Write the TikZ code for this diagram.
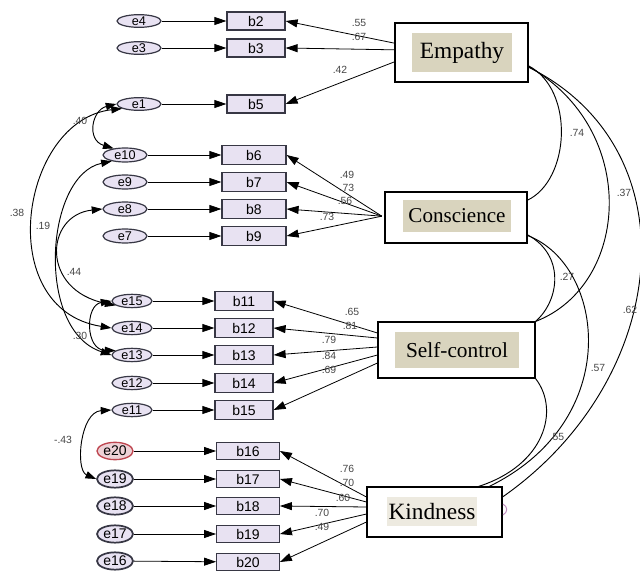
\documentclass[tikz,border=0pt]{standalone}
\usepackage{fontspec}
\setmainfont{Liberation Serif}
\setsansfont{Liberation Sans}
\usetikzlibrary{arrows.meta,shapes.geometric,calc}
\definecolor{lav}{RGB}{232,226,242}
\definecolor{tanc}{RGB}{217,212,190}
\definecolor{tanl}{RGB}{237,234,224}
\definecolor{edgec}{RGB}{55,55,68}
\definecolor{numc}{RGB}{70,70,70}
\definecolor{redc}{RGB}{190,70,80}
\definecolor{redf}{RGB}{238,210,215}
\definecolor{pinkc}{RGB}{190,140,190}
\begin{document}
\begin{tikzpicture}[x=0.75pt,y=-0.75pt,
 err/.style={ellipse, draw=edgec, fill=lav, line width=0.9pt, inner sep=0pt, minimum width=33pt, minimum height=9.5pt, font=\sffamily\fontsize{9.5}{10}\selectfont},
 errb/.style={err, line width=1.3pt, minimum width=27pt, minimum height=13pt, font=\sffamily\fontsize{10.5}{11}\selectfont},
 obs/.style={rectangle, draw=edgec, fill=lav, line width=0.9pt, inner sep=0pt, minimum width=43.5pt, minimum height=13.5pt, font=\sffamily\fontsize{10.5}{11}\selectfont},
 lat/.style={rectangle, draw=black, line width=0.8pt, fill=white, inner sep=0pt},
 latt/.style={rectangle, fill=tanc, inner sep=0pt},
 reg/.style={-{Triangle[length=9pt,width=6pt]}, line width=0.6pt, draw=black},
 cov/.style={{Triangle[length=8pt,width=5.5pt]}-{Triangle[length=8pt,width=5.5pt]}, line width=0.7pt},
 corr/.style={line width=0.7pt},
 num/.style={font=\sffamily\fontsize{7.8}{8}\selectfont, text=numc, inner sep=0.5pt}
]
\useasboundingbox (0,0) rectangle (640,574);

% ---------- latent boxes ----------
\node[lat, minimum width=99.75pt, minimum height=44.25pt] (Emp) at (461.5,52.5) {};
\node[latt, minimum width=75pt, minimum height=29.25pt, font=\fontsize{17.5}{20}\selectfont] (EmpT) at (462,52.5) {Empathy};
\node[lat, minimum width=106.5pt, minimum height=38.25pt] (Con) at (456,217.5) {};
\node[latt, minimum width=81pt, minimum height=24pt, font=\fontsize{15.8}{18}\selectfont] (ConT) at (457,216) {Conscience};
\node[lat, minimum width=117.75pt, minimum height=42pt] (Self) at (456.5,350) {};
\node[latt, minimum width=93pt, minimum height=27pt, font=\fontsize{16}{18}\selectfont] (SelfT) at (457,350) {Self-control};
\node[lat, minimum width=101.25pt, minimum height=37.5pt] (Kind) at (434.5,512) {};
\node[latt, fill=tanl, minimum width=67.5pt, minimum height=21.75pt, font=\fontsize{17.5}{20}\selectfont] (KindT) at (432,511.5) {Kindness};

% ---------- group 1 ----------
\node[err] (e4) at (139,21) {e4};
\node[err] (e3) at (139,48) {e3};
\node[err] (e1) at (139,104) {e1};
\node[obs] (b2) at (256,21) {b2};
\node[obs] (b3) at (256,48) {b3};
\node[obs] (b5) at (256,104) {b5};

% ---------- group 2 ----------
\node[err, minimum height=10.5pt] (e10) at (125,155) {e10};
\node[err, minimum height=10.5pt] (e9) at (125,182) {e9};
\node[err, minimum height=10.5pt] (e8) at (125,209) {e8};
\node[err, minimum height=10.5pt] (e7) at (125,236) {e7};
\node[obs, minimum width=48pt, minimum height=14.25pt] (b6) at (254,155) {b6};
\node[obs, minimum width=48pt, minimum height=14.25pt] (b7) at (254,182) {b7};
\node[obs, minimum width=48pt, minimum height=14.25pt] (b8) at (254,209) {b8};
\node[obs, minimum width=48pt, minimum height=14.25pt] (b9) at (254,236) {b9};

% ---------- group 3 ----------
\node[err, minimum width=30pt, minimum height=10pt] (e15) at (132,301) {e15};
\node[err, minimum width=30pt, minimum height=10pt] (e14) at (132,328) {e14};
\node[err, minimum width=30pt, minimum height=10pt] (e13) at (132,355) {e13};
\node[err, minimum width=30pt, minimum height=10pt] (e12) at (132,383) {e12};
\node[err, minimum width=30pt, minimum height=10pt] (e11) at (132,410) {e11};
\node[obs, minimum height=14.25pt] (b11) at (244,301) {b11};
\node[obs, minimum height=14.25pt] (b12) at (244,328) {b12};
\node[obs, minimum height=14.25pt] (b13) at (244,355) {b13};
\node[obs, minimum height=14.25pt] (b14) at (244,383) {b14};
\node[obs, minimum height=14.25pt] (b15) at (244,410) {b15};

% ---------- group 4 ----------
\node[errb, draw=redc, fill=redf, line width=1pt] (e20) at (115,451) {e20};
\node[errb] (e19) at (115,479) {e19};
\node[errb] (e18) at (115,506) {e18};
\node[errb] (e17) at (115,534) {e17};
\node[errb] (e16) at (115,561) {e16};
\node[obs, minimum width=47pt, minimum height=13pt] (b16) at (248,451) {b16};
\node[obs, minimum width=47pt, minimum height=13pt] (b17) at (248,479) {b17};
\node[obs, minimum width=47pt, minimum height=13pt] (b18) at (248,506) {b18};
\node[obs, minimum width=47pt, minimum height=13pt] (b19) at (248,534) {b19};
\node[obs, minimum width=47pt, minimum height=13pt] (b20) at (248,562) {b20};

% ---------- error arrows ----------
\foreach \e/\b in {e4/b2,e3/b3,e1/b5,e10/b6,e9/b7,e8/b8,e7/b9,e15/b11,e14/b12,e13/b13,e12/b14,e11/b15,e20/b16,e19/b17,e18/b18,e17/b19,e16/b20}
  \draw[reg] (\e) -- (\b);

% ---------- loadings ----------
\draw[reg] ([yshift=7pt]Emp.west) -- (b2.east);
\draw[reg] ([yshift=2pt]Emp.west) -- (b3.east);
\draw[reg] ([yshift=-7pt]Emp.west) -- (b5.east);

\draw[reg] ([xshift=-2pt,yshift=1pt]Con.west) -- (b6.east);
\draw[reg] ([xshift=-2pt,yshift=1pt]Con.west) -- (b7.east);
\draw[reg] ([xshift=-2pt,yshift=1pt]Con.west) -- (b8.east);
\draw[reg] ([xshift=-2pt,yshift=1pt]Con.west) -- (b9.east);

\draw[reg] ([yshift=12.75pt]Self.west) -- (b11.east);
\draw[reg] ([yshift=9pt]Self.west) -- (b12.east);
\draw[reg] ([yshift=2.25pt]Self.west) -- (b13.east);
\draw[reg] ([yshift=-3.75pt]Self.west) -- (b14.east);
\draw[reg] ([yshift=-9.75pt]Self.west) -- (b15.east);

\draw[reg] ([yshift=11.25pt]Kind.west) -- (b16.east);
\draw[reg] ([yshift=7.5pt]Kind.west) -- (b17.east);
\draw[reg] ([yshift=3.75pt]Kind.west) -- (b18.east);
\draw[reg] ([yshift=-1.5pt]Kind.west) -- (b19.east);
\draw[reg] ([yshift=-7.5pt]Kind.west) -- (b20.east);

% loading labels
\node[num] (l55) at (359,23) {.55};
\node[num] (l67) at (359,37) {.67};
\node[num] (l42) at (340,70) {.42};
\node[num] (l49) at (347,175) {.49};
\node[num] (l73a) at (347,188) {.73};
\node[num] (l56) at (345,201) {.56};
\node[num] (l73b) at (327,217) {.73};
\node[num] (l65) at (352,312) {.65};
\node[num] (l81) at (350,326) {.81};
\node[num] (l79) at (329,340) {.79};
\node[num] (l84) at (329,356) {.84};
\node[num] (l69) at (329,370) {.69};
\node[num] (l76) at (347,469) {.76};
\node[num] (l70a) at (347,483) {.70};
\node[num] (l60) at (343,498) {.60};
\node[num] (l70b) at (322,513) {.70};
\node[num] (l49b) at (322,527) {.49};

% ---------- error covariances ----------
\draw[cov] (e1.west) .. controls (92,110) and (86,140) .. (e10.150);
\draw[cov] (e1.195) .. controls (20,120) and (-8,309) .. (e14.west);
\draw[cov] (e10.205) .. controls (45,175) and (35,330) .. (e13.west);
\draw[cov] (e8.west) .. controls (45,215) and (40,290) .. (e15.195);
\draw[cov] (e15.west) .. controls (85,305) and (85,350) .. (e13.165);
\draw[cov] (e11.west) .. controls (80,412) and (75,470) .. (e19.west);

\node[num] (c40) at (80,121) {.40};
\node[num] (c38) at (17,213) {.38};
\node[num] (c19) at (43,226) {.19};
\node[num] (c44) at (74,272) {.44};
\node[num] (c30) at (80,336) {.30};
\node[num] (c43) at (63,440) {-.43};

% ---------- latent correlations ----------
\draw[corr] ([yshift=-10pt]Emp.east) .. controls (575,90) and (570,180) .. ([yshift=13pt]Con.east);
\draw[corr] ([yshift=-10.5pt]Emp.east) .. controls (640,130) and (630,285) .. (Self.north east);
\draw[corr] ([yshift=-11pt]Emp.east) .. controls (695,150) and (670,380) .. ([yshift=11.25pt]Kind.east);
\draw[corr] ([yshift=-13pt]Con.east) .. controls (565,255) and (560,300) .. (Self.north east);
\draw[corr] ([yshift=-13.5pt]Con.east) .. controls (605,265) and (625,420) .. ([xshift=-10pt]Kind.north east);
\draw[corr] (Self.south east) .. controls (560,410) and (545,465) .. ([xshift=-18pt]Kind.north east);

\node[num] (r74) at (577,133) {.74};
\node[num] (r37) at (624,193) {.37};
\node[num] (r27) at (567,277) {.27};
\node[num] (r57) at (598,368) {.57};
\node[num] (r62) at (630,310) {.62};
\node[num] (r55) at (557,437) {.55};

% small residual fragment right of Kindness
\draw[pinkc, line width=0.7pt] (503,504) .. controls (508,507) and (508,512) .. (503,515);
\end{tikzpicture}
\end{document}
